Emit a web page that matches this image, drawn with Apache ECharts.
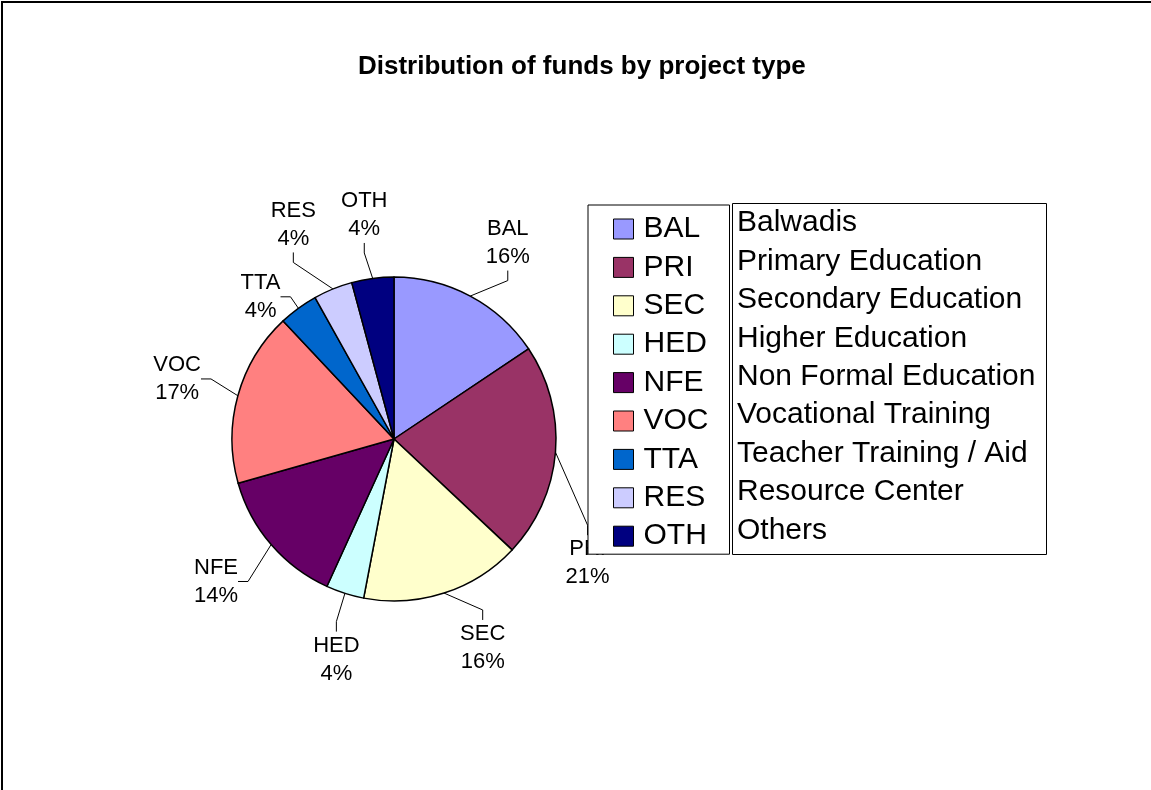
<!DOCTYPE html>
<html>
<head>
<meta charset="utf-8">
<title>Distribution of funds by project type</title>
<script src="https://cdn.jsdelivr.net/npm/echarts@6/dist/echarts.min.js"></script>
<style>
    html, body { margin: 0; padding: 0; background: #fff; }
    #pieChart { width: 1151px; height: 790px; }
</style>
</head>
<body>
<div id="pieChart"></div>
<script>
// 数据
var codes = ['BAL', 'PRI', 'SEC', 'HED', 'NFE', 'VOC', 'TTA', 'RES', 'OTH'];
var shares = [15.6, 21.4, 16.0, 3.8, 13.8, 17.4, 3.9, 3.9, 4.2];
var descriptions = ['Balwadis', 'Primary Education', 'Secondary Education', 'Higher Education',
    'Non Formal Education', 'Vocational Training', 'Teacher Training / Aid', 'Resource Center', 'Others'];
var colors = ['#9999FF', '#993366', '#FFFFCC', '#CCFFFF', '#660066', '#FF8080', '#0066CC', '#CCCCFF', '#000080'];

// 标签摆放：沿扇区中线方向，个别标签被手动挪过
var labelTurn = [2, 28, -5, -3, 2, 0, -7, -3, 0];
var labelDist = [227, 230, 227, 228, 228, 225, 195, 237, 226];

var font = "'Liberation Sans', Arial, sans-serif";
var cx = 394, cy = 439, r = 162;

var total = shares.reduce(function(a, b) { return a + b; }, 0);
var midAngles = [];
var acc = 0;
shares.forEach(function(v) {
    midAngles.push((acc + v / 2) / total * 360);
    acc += v;
});

var myChart = echarts.init(document.getElementById('pieChart'));

var option = {
    color: colors,
    animation: false,
    title: [{
        text: 'Distribution of funds by project type',
        left: 358,
        top: 54,
        padding: 0,
        textStyle: { fontFamily: font, fontSize: 26, fontWeight: 'bold', color: '#000', lineHeight: 26 }
    }, {
        // 右边的说明框
        text: descriptions.join('\n'),
        left: 732,
        top: 203,
        padding: [1, 11, 5, 5],
        borderColor: '#000',
        borderWidth: 1,
        backgroundColor: '#fff',
        textStyle: { fontFamily: font, fontSize: 30, fontWeight: 'normal', color: '#000', lineHeight: 38.4 }
    }],
    legend: {
        orient: 'vertical',
        left: 588,
        top: 205,
        padding: [9, 21, 3, 25],
        itemWidth: 20,
        itemHeight: 20,
        itemGap: 8.4,
        icon: 'rect',
        backgroundColor: '#fff',
        borderColor: '#000',
        borderWidth: 1,
        itemStyle: { borderColor: '#000', borderWidth: 1 },
        textStyle: { fontFamily: font, fontSize: 30, color: '#000', padding: [0, 0, 0, 5] },
        data: codes
    },
    graphic: [{
        type: 'rect',
        shape: { x: 2, y: 2, width: 1170, height: 820 },
        style: { fill: null, stroke: '#000', lineWidth: 2 },
        silent: true
    }],
    series: [{
        type: 'pie',
        center: [cx, cy],
        radius: r,
        startAngle: 90,
        clockwise: true,
        avoidLabelOverlap: false,
        itemStyle: { borderColor: '#000', borderWidth: 1.5 },
        label: {
            show: true,
            position: 'outside',
            fontFamily: font,
            fontSize: 22,
            lineHeight: 28,
            color: '#000',
            formatter: function(p) {
                return p.name + '\n' + Math.round(p.percent) + '%';
            }
        },
        labelLine: {
            show: true,
            length: 25,
            length2: 10,
            lineStyle: { color: '#000', width: 1 }
        },
        labelLayout: function(params) {
            var i = params.dataIndex;
            var a = (midAngles[i] + labelTurn[i]) * Math.PI / 180;
            return {
                x: cx + labelDist[i] * Math.sin(a),
                y: cy - labelDist[i] * Math.cos(a),
                align: 'center',
                verticalAlign: 'middle'
            };
        },
        emphasis: { disabled: true },
        data: codes.map(function(c, i) {
            return { name: c, value: shares[i] };
        })
    }]
};

myChart.setOption(option);
</script>
</body>
</html>
